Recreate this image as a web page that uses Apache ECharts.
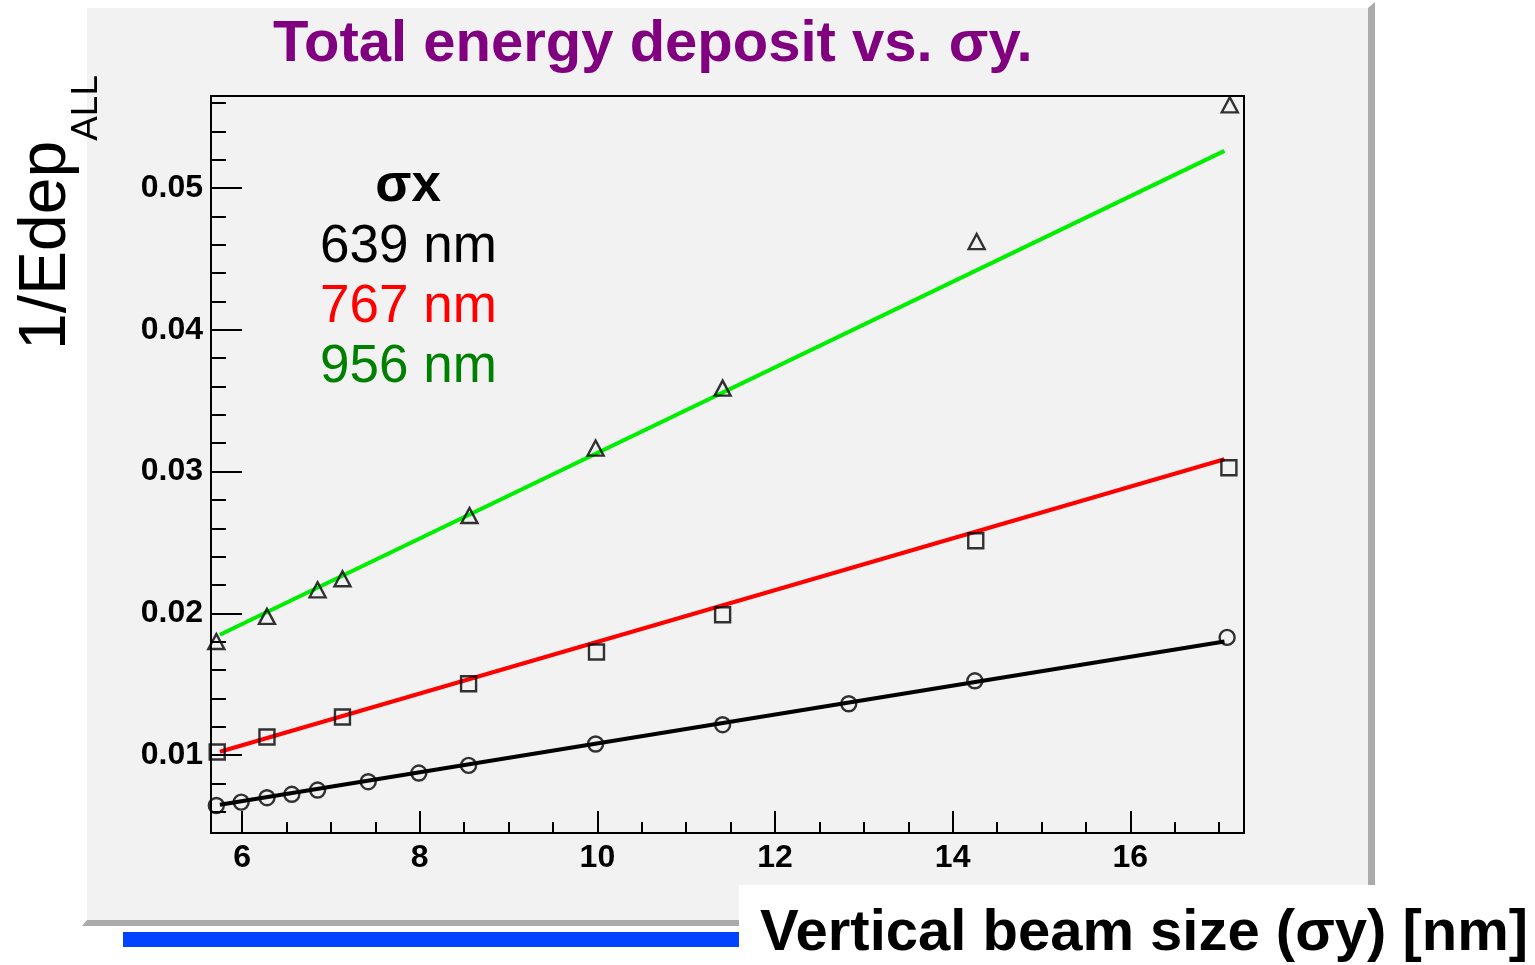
<!DOCTYPE html>
<html>
<head>
<meta charset="utf-8">
<title>Total energy deposit vs. σy</title>
<script src="https://cdn.jsdelivr.net/npm/echarts@6/dist/echarts.min.js"></script>
<style>
  html, body { margin: 0; padding: 0; background: #ffffff; }
  #chart { width: 1535px; height: 965px; }
</style>
</head>
<body>
<div id="chart"></div>
<script>
// Beam-size scan: inverse total energy deposit against vertical beam size,
// one set of points and one straight-line fit per horizontal beam size.
const sigmaXLabels = ['639 nm', '767 nm', '956 nm'];
const sigmaXColors = ['#000000', '#ff0000', '#008000'];

// 639 nm
const sigmaY639 = [5.71, 5.99, 6.28, 6.56, 6.85, 7.42, 7.99, 8.55, 9.98, 11.41, 12.83, 14.25, 17.09];
const invEdep639 = [0.00644, 0.00668, 0.00699, 0.00723, 0.00753, 0.00812, 0.00873, 0.00927, 0.01078, 0.01214, 0.01362, 0.01524, 0.01830];
// 767 nm
const sigmaY767 = [5.72, 6.28, 7.13, 8.55, 9.99, 11.41, 14.26, 17.11];
const invEdep767 = [0.01021, 0.01127, 0.01268, 0.01503, 0.01727, 0.01990, 0.02512, 0.03027];
// 956 nm
const sigmaY956 = [5.71, 6.28, 6.85, 7.13, 8.56, 9.98, 11.41, 14.27, 17.12];
const invEdep956 = [0.01801, 0.01978, 0.02166, 0.02244, 0.02690, 0.03166, 0.03589, 0.04623, 0.05588];

// Straight-line fits, evaluated at the ends of the fit range
const fitRange = [5.75, 17.06];
const fit639 = [0.00649, 0.01801];
const fit767 = [0.01023, 0.03087];
const fit956 = [0.01849, 0.05263];

// Axis ranges and tick positions
const xRange = [5.65, 17.28];
const yRange = [0.0045, 0.0565];
const xMajorTicks = [6, 8, 10, 12, 14, 16];
const xMinorTicks = [6.5, 7, 7.5, 8.5, 9, 9.5, 10.5, 11, 11.5, 12.5, 13, 13.5, 14.5, 15, 15.5, 16.5, 17];
const yMajorTicks = [0.01, 0.02, 0.03, 0.04, 0.05];
const yMinorTicks = [0.006, 0.008, 0.012, 0.014, 0.016, 0.018, 0.022, 0.024, 0.026, 0.028,
                     0.032, 0.034, 0.036, 0.038, 0.042, 0.044, 0.046, 0.048, 0.052, 0.054, 0.056];

const FONT = "'Liberation Sans', Arial, Helvetica, sans-serif";

function pairs(xs, ys) { return xs.map((x, i) => [x, ys[i]]); }

const chart = echarts.init(document.getElementById('chart'), null, { renderer: 'canvas' });

const majorAxisCommon = {
  type: 'value',
  splitLine: { show: false },
  axisLine: { show: true, lineStyle: { color: '#000', width: 2 } }
};

const markerStyle = { color: 'rgba(0,0,0,0)', borderColor: '#000', borderWidth: 2.4 };

const option = {
  animation: false,
  backgroundColor: '#ffffff',
  grid: {
    left: 211, top: 96, right: 291, bottom: 132,
    show: true, borderColor: '#000', borderWidth: 2, backgroundColor: 'transparent',
    containLabel: false
  },
  xAxis: [
    Object.assign({}, majorAxisCommon, {
      min: xRange[0], max: xRange[1], position: 'bottom',
      axisTick: { show: true, inside: true, length: 22, customValues: xMajorTicks,
                  lineStyle: { color: '#000', width: 2 } },
      axisLabel: { show: true, customValues: xMajorTicks, margin: 9,
                   fontFamily: FONT, fontWeight: 'bold', fontSize: 32, color: '#000' }
    }),
    {
      type: 'value', min: xRange[0], max: xRange[1], position: 'bottom', offset: 0,
      splitLine: { show: false }, axisLine: { show: false }, axisLabel: { show: false },
      axisTick: { show: true, inside: true, length: 11, customValues: xMinorTicks,
                  lineStyle: { color: '#000', width: 2 } }
    }
  ],
  yAxis: [
    Object.assign({}, majorAxisCommon, {
      min: yRange[0], max: yRange[1], position: 'left',
      axisTick: { show: true, inside: true, length: 31, customValues: yMajorTicks,
                  lineStyle: { color: '#000', width: 2 } },
      axisLabel: { show: true, customValues: yMajorTicks, margin: 8,
                   fontFamily: FONT, fontWeight: 'bold', fontSize: 32, color: '#000' }
    }),
    {
      type: 'value', min: yRange[0], max: yRange[1], position: 'left', offset: 0,
      splitLine: { show: false }, axisLine: { show: false }, axisLabel: { show: false },
      axisTick: { show: true, inside: true, length: 15, customValues: yMinorTicks,
                  lineStyle: { color: '#000', width: 2 } }
    }
  ],
  series: [
    { name: sigmaXLabels[2] + ' fit', type: 'line', data: pairs(fitRange, fit956),
      showSymbol: false, symbol: 'none', lineStyle: { color: '#00ee00', width: 4 }, z: 2 },
    { name: sigmaXLabels[1] + ' fit', type: 'line', data: pairs(fitRange, fit767),
      showSymbol: false, symbol: 'none', lineStyle: { color: '#ff0000', width: 4 }, z: 2 },
    { name: sigmaXLabels[0] + ' fit', type: 'line', data: pairs(fitRange, fit639),
      showSymbol: false, symbol: 'none', lineStyle: { color: '#000000', width: 4 }, z: 2 },
    { name: sigmaXLabels[0], type: 'scatter', data: pairs(sigmaY639, invEdep639),
      symbol: 'circle', symbolSize: 15, z: 3, itemStyle: markerStyle },
    { name: sigmaXLabels[1], type: 'scatter', data: pairs(sigmaY767, invEdep767),
      symbol: 'rect', symbolSize: 15, z: 3, itemStyle: markerStyle },
    { name: sigmaXLabels[2], type: 'scatter', data: pairs(sigmaY956, invEdep956),
      symbol: 'triangle', symbolSize: [16, 15], z: 3, itemStyle: markerStyle }
  ],
  graphic: [
    // canvas panel with drop shadow
    { type: 'polygon', z: -20, silent: true,
      shape: { points: [[87, 920], [1368, 920], [1368, 8], [1375, 2], [1375, 926], [82, 926]] },
      style: { fill: '#ababab' } },
    { type: 'rect', z: -20, silent: true,
      shape: { x: 87, y: 8, width: 1281, height: 912 },
      style: { fill: '#f2f2f2' } },
    // blue rule and white caption strip along the bottom
    { type: 'rect', z: 50, silent: true,
      shape: { x: 123, y: 932, width: 616, height: 15 },
      style: { fill: '#0044ff' } },
    { type: 'rect', z: 50, silent: true,
      shape: { x: 739, y: 885, width: 800, height: 80 },
      style: { fill: '#ffffff' } },
    // title
    { type: 'text', z: 60, x: 273, y: 45, silent: true,
      style: { text: 'Total energy deposit vs. σy.', fill: '#800080',
               font: "bold 58px " + FONT, align: 'left', verticalAlign: 'middle' } },
    // x-axis title
    { type: 'text', z: 60, x: 760, y: 934, silent: true,
      style: { text: 'Vertical beam size (σy) [nm]', fill: '#000000',
               font: "bold 58px " + FONT, align: 'left', verticalAlign: 'middle' } },
    // y-axis title, read bottom to top, with subscript
    { type: 'text', z: 60, x: 14, y: 350, rotation: Math.PI / 2, silent: true,
      style: {
        text: '{m|1/Edep}{s|ALL}', align: 'left', verticalAlign: 'top',
        rich: {
          m: { fontSize: 66, lineHeight: 66, verticalAlign: 'top', fontFamily: FONT, fill: '#000' },
          s: { fontSize: 37, lineHeight: 146, fontFamily: FONT, fill: '#000' }
        }
      } },
    // σx key
    { type: 'text', z: 60, x: 408, y: 186, silent: true,
      style: { text: 'σx', fill: '#000000', font: "bold 53px " + FONT,
               align: 'center', verticalAlign: 'middle' } },
    { type: 'text', z: 60, x: 320, y: 247, silent: true,
      style: { text: sigmaXLabels[0], fill: sigmaXColors[0], font: "53px " + FONT,
               align: 'left', verticalAlign: 'middle' } },
    { type: 'text', z: 60, x: 320, y: 307, silent: true,
      style: { text: sigmaXLabels[1], fill: sigmaXColors[1], font: "53px " + FONT,
               align: 'left', verticalAlign: 'middle' } },
    { type: 'text', z: 60, x: 320, y: 367, silent: true,
      style: { text: sigmaXLabels[2], fill: sigmaXColors[2], font: "53px " + FONT,
               align: 'left', verticalAlign: 'middle' } }
  ]
};

chart.setOption(option);
</script>
</body>
</html>
